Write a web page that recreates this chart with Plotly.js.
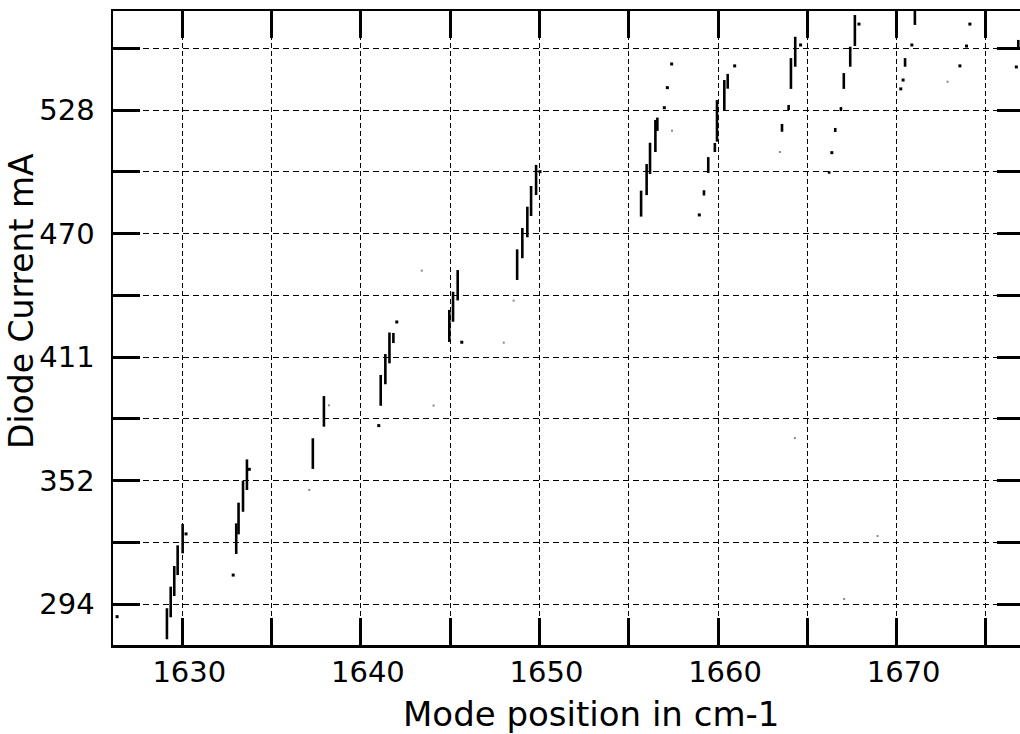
<!DOCTYPE html>
<html>
<head>
<meta charset="utf-8">
<script src="https://cdn.plot.ly/plotly-3.0.1.min.js"></script>
<style>
html, body { margin: 0; padding: 0; overflow: hidden; background: #fff; }
#chart { width: 1030px; height: 734px; }
</style>
</head>
<body>
<div id="chart"></div>
<script>
// Mode-hop segments: wavenumber (cm-1), lower and upper diode current (mA)
const segX    = [1629.14, 1629.35, 1629.55, 1629.74, 1630.02, 1633.02, 1633.15, 1633.40, 1633.62, 1637.31, 1637.93, 1641.11, 1641.37, 1641.60, 1641.82, 1644.95, 1645.16, 1645.42, 1648.75, 1649.04, 1649.32, 1649.53, 1649.81, 1655.69, 1656.00, 1656.19, 1656.49, 1656.60, 1659.21, 1659.45, 1659.82, 1659.94, 1660.35, 1660.54, 1663.58, 1663.95, 1664.08, 1664.32, 1666.22, 1666.56, 1666.88, 1667.04, 1667.40, 1667.66, 1670.47, 1671.02, 1676.81];
const segLow  = [277.3, 287.7, 297.8, 307.7, 318.0, 317.7, 327.0, 337.7, 348.0, 358.0, 378.0, 387.9, 398.1, 408.0, 417.6, 418.1, 427.7, 437.8, 447.5, 457.8, 467.7, 477.8, 487.7, 477.5, 487.7, 497.7, 508.1, 518.1, 487.5, 498.2, 508.1, 513.0, 528.0, 538.1, 517.7, 528.0, 538.0, 548.5, 497.8, 517.6, 527.5, 538.0, 548.5, 558.3, 548.5, 568.3, 557.4];
const segHigh = [292.0, 302.2, 312.0, 321.8, 331.9, 332.2, 342.0, 352.4, 362.5, 372.5, 392.5, 402.5, 412.4, 422.6, 422.4, 433.3, 441.9, 452.2, 462.0, 472.1, 482.2, 492.0, 502.0, 489.8, 502.4, 512.5, 523.3, 524.4, 490.0, 505.7, 512.4, 532.7, 542.2, 545.1, 521.4, 530.4, 552.6, 562.7, 499.0, 519.5, 529.4, 545.5, 558.0, 573.0, 552.6, 580.1, 561.2];

// Isolated points
const dotX = [1626.35, 1630.21, 1632.85, 1633.75, 1641.00, 1642.01, 1645.65, 1650.03, 1657.40, 1657.16, 1656.99, 1658.95, 1660.93, 1664.62, 1666.37, 1667.89, 1670.23, 1670.36, 1670.85, 1673.54, 1673.91, 1674.10, 1676.70];
const dotY = [288.0, 327.2, 307.7, 357.8, 378.5, 427.6, 418.0, 498.8, 549.8, 538.6, 529.1, 478.3, 548.9, 558.8, 507.8, 568.7, 538.0, 542.2, 558.8, 548.9, 558.3, 568.7, 548.4];

// Faint points
const faintX = [1637.11, 1638.21, 1644.07, 1643.41, 1648.00, 1648.55, 1657.42, 1663.46, 1672.85, 1668.93, 1667.06, 1664.30];
const faintY = [348.0, 388.1, 388.0, 451.9, 417.8, 437.7, 518.2, 508.1, 541.4, 326.2, 296.4, 372.6];

// Axis ticks
const xTickVals = [1630, 1635, 1640, 1645, 1650, 1655, 1660, 1665, 1670, 1675];
const xTickText = ['1630', '', '1640', '', '1650', '', '1660', '', '1670', ''];
const yTickVals = [294, 323.25, 352.5, 381.75, 411, 440.25, 469.5, 498.75, 528, 557.25];
const yTickText = ['294', '', '352', '', '411', '', '470', '', '528', ''];

// Titles
const xTitle = 'Mode position in cm-1';
const yTitle = 'Diode Current mA';

const lx = [], ly = [];
for (let i = 0; i < segX.length; i++) {
  lx.push(segX[i], segX[i], null);
  ly.push(segLow[i], segHigh[i], null);
}

const traces = [
  { x: lx, y: ly, type: 'scatter', mode: 'lines', cliponaxis: false,
    line: { color: '#000', width: 2.6 }, hoverinfo: 'skip', showlegend: false },
  { x: dotX, y: dotY, type: 'scatter', mode: 'markers', cliponaxis: false,
    marker: { color: '#000', size: 3, symbol: 'square' }, showlegend: false },
  { x: faintX, y: faintY, type: 'scatter', mode: 'markers',
    marker: { color: '#888', size: 2, symbol: 'square' }, showlegend: false }
];

const FAM = 'DejaVu Sans, sans-serif';

const layout = {
  width: 1030, height: 734,
  margin: { l: 113, r: 6, t: 11, b: 89 },
  paper_bgcolor: '#fff', plot_bgcolor: '#fff',
  showlegend: false,
  font: { family: FAM, color: '#000' },
  xaxis: {
    range: [1626.12, 1677.13],
    tickmode: 'array', tickvals: xTickVals, ticktext: xTickText,
    ticks: 'inside', ticklen: 27, tickwidth: 3, tickcolor: '#000',
    showline: true, linewidth: 2.5, linecolor: '#000', mirror: 'ticks',
    showgrid: true, gridcolor: '#000', gridwidth: 1, griddash: '5px,3px',
    zeroline: false,
    tickfont: { family: FAM, size: 29, color: '#000' },
    ticklabelshift: 7
  },
  yaxis: {
    range: [274.58, 574.9],
    tickmode: 'array', tickvals: yTickVals, ticktext: yTickText,
    ticks: 'inside', ticklen: 27, tickwidth: 3, tickcolor: '#000',
    showline: true, linewidth: 2.5, linecolor: '#000', mirror: 'ticks',
    showgrid: true, gridcolor: '#000', gridwidth: 1, griddash: '6px,4px',
    zeroline: false,
    tickfont: { family: FAM, size: 29, color: '#000' },
    ticklabelstandoff: 10
  },
  annotations: [
    { text: xTitle, xref: 'paper', yref: 'paper', x: 0.5247, y: -0.074,
      xanchor: 'center', yanchor: 'top', showarrow: false,
      font: { family: FAM, size: 34, color: '#000' } },
    { text: yTitle, xref: 'paper', yref: 'paper', x: -0.0999, y: 0.5426,
      xanchor: 'center', yanchor: 'middle', textangle: -90, showarrow: false,
      font: { family: FAM, size: 33, color: '#000' } }
  ]
};

Plotly.newPlot('chart', traces, layout, { staticPlot: true, displayModeBar: false });
</script>
</body>
</html>
